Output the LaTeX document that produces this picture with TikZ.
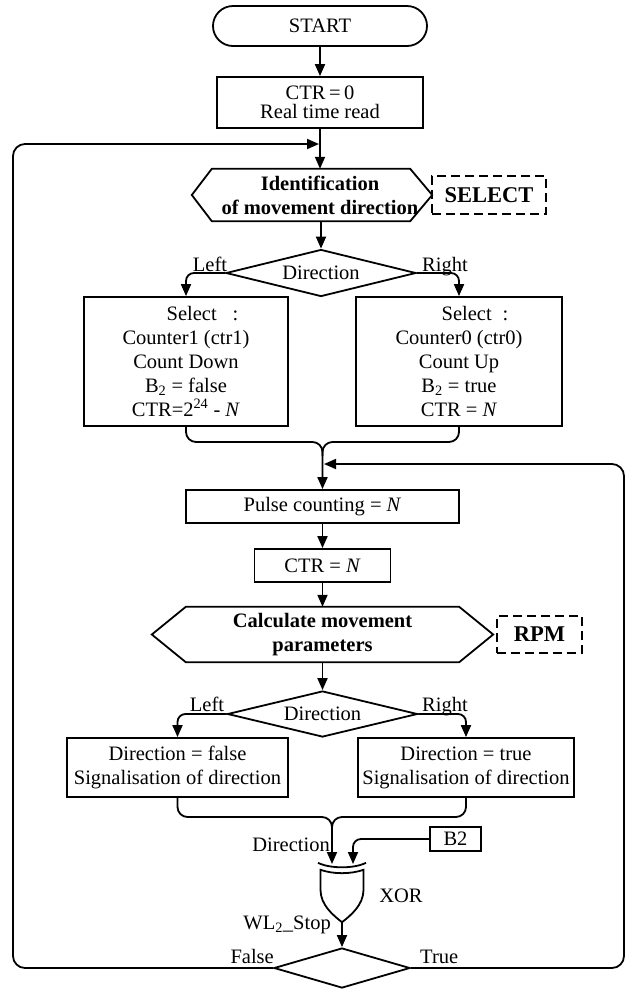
\documentclass[tikz,border=0pt]{standalone}
\usepackage{fontspec}
\setmainfont{Liberation Serif}
\usetikzlibrary{arrows.meta,shapes.geometric}
\newcommand\fsz{\fontsize{20.5}{24}\selectfont}
\newcommand\fszt{\fontsize{20.5}{18.5}\selectfont}
\newcommand\fszb{\fontsize{22.5}{26}\selectfont}
\begin{document}
\begin{tikzpicture}[x=1pt,y=-1pt,
  every node/.style={font=\fsz, inner sep=0pt},
  ln/.style={line width=1.8pt},
  arr/.style={ln,-{Triangle[length=12pt,width=10pt]}},
  box/.style={draw,ln,align=center},
  hexbox/.style={align=center,font=\bfseries\fsz},
  tag/.style={draw,line width=1.5pt,dash pattern=on 9pt off 5pt,font=\bfseries\fszb},
  dec/.style={draw,ln,diamond,aspect=4},
]
\useasboundingbox (0,0) rectangle (631,989);

% start and initialisation
\node[box,rounded corners=20pt,minimum width=214pt,minimum height=40pt] (start) at (320,26) {START};
\node[box,font=\fszt,minimum width=206pt,minimum height=51pt] (init) at (320,102.5) {CTR\,=\,0\\Real time read};

% direction identification block
\node[hexbox,minimum width=240pt,minimum height=52pt] (ident) at (312,195)
  {\hspace*{16pt}Identification\\\hspace*{16pt}of movement direction};
\draw[ln] (ident.west) -- ([xshift=20pt]ident.north west) -- ([xshift=-22pt]ident.north east)
  -- (ident.east) -- ([xshift=-22pt]ident.south east) -- ([xshift=20pt]ident.south west) -- cycle;
\node[tag,minimum width=114pt,minimum height=38pt] (select) at (489,195) {SELECT};

\node[dec,minimum width=190pt,minimum height=47pt] (dir1) at (321,273) {Direction};
\node[box,minimum width=204pt,minimum height=129pt] (cnt1) at (186,361.5)
  {\hspace*{33pt}Select\hspace{16pt}:\\Counter1 (ctr1)\\Count Down\\B\textsubscript{2} = false\\CTR=2\textsuperscript{24} - \textit{N}};
\node[box,minimum width=206pt,minimum height=129pt] (cnt0) at (459,361.5)
  {\hspace*{32pt}Select\hspace{11pt}:\\Counter0 (ctr0)\\Count Up\\B\textsubscript{2} = true\\CTR = \textit{N}};
\node[anchor=base] (lL1) at (210,271) {Left};
\node[anchor=base] (lR1) at (445,271) {Right};

% counting and parameter calculation
\coordinate (j1) at (322.5,442);
\node[box,minimum width=273pt,minimum height=33pt] (pulse) at (322.5,506.5) {Pulse counting = \textit{N}};
\node[box,minimum width=136pt,minimum height=33pt] (ctrn) at (322.5,565.5) {CTR = \textit{N}};
\node[hexbox,minimum width=341pt,minimum height=55pt] (calc) at (322.5,634.5) {Calculate movement\\parameters};
\draw[ln] (calc.west) -- ([xshift=34pt]calc.north west) -- ([xshift=-34pt]calc.north east)
  -- (calc.east) -- ([xshift=-34pt]calc.south east) -- ([xshift=34pt]calc.south west) -- cycle;
\node[tag,minimum width=85pt,minimum height=37pt] (rpm) at (539.5,634.5) {RPM};

\node[dec,minimum width=190pt,minimum height=46pt] (dir2) at (322.5,714) {Direction};
\node[box,minimum width=221pt,minimum height=59pt] (sig1) at (177.5,767.5) {Direction = false\\Signalisation of direction};
\node[box,minimum width=216pt,minimum height=59pt] (sig0) at (466,767.5) {Direction = true\\Signalisation of direction};
\node[anchor=base] (lL2) at (207,711) {Left};
\node[anchor=base] (lR2) at (445,711) {Right};

% XOR stage and stop decision
\coordinate (j2) at (332,817);
\coordinate (in1) at (332,864);
\coordinate (in2) at (353,864);
\node[box,minimum width=51pt,minimum height=24pt] (b2) at (455.5,839) {B2};
\node[minimum width=42.6pt,minimum height=52pt] (xor) at (342,896) {};
\draw[ln] (xor.north west) -- ++(0,20) .. controls +(0,15) and +(-9,-7) .. (xor.south)
  .. controls +(9,-7) and +(0,15) .. ([yshift=-20pt]xor.north east) -- (xor.north east)
  .. controls +(-13,4.5) and +(13,4.5) .. (xor.north west) -- cycle;
\draw[ln] ([xshift=-2.5pt,yshift=7pt]xor.north west) .. controls +(12,6) and +(-12,6) .. ([xshift=2.5pt,yshift=7pt]xor.north east);
\node[dec,minimum width=136pt,minimum height=40pt] (stop) at (342,968) {};

\node[anchor=base east] (ldir) at (330,851) {Direction};
\node (lxor) at (401,896) {XOR};
\node[anchor=base east] (lwl) at (331,929) {WL\textsubscript{2}\_Stop};
\node[anchor=base east] (lf) at (274,963) {False};
\node[anchor=base west] (ltr) at (420,963) {True};

\coordinate (lc) at (13,144);
\coordinate (lt) at (319,144);
\coordinate (rc) at (624,464);
\coordinate (rt) at (324,464);

% connectors
\draw[arr] (start) -- (init);
\draw[arr] (init) -- (init.south |- ident.north);
\draw[arr] (dir1.north |- ident.south) -- (dir1);
\draw[arr,rounded corners=8pt] (dir1.west) -| (cnt1.north);
\draw[arr,rounded corners=8pt] (dir1.east) -| (cnt0.north);
\draw[arr,rounded corners=10pt] (cnt1.south) |- (j1) -- (pulse.north);
\draw[ln,rounded corners=10pt] (cnt0.south) |- (j1) -- ++(0,14);
\draw[arr] (pulse) -- (ctrn);
\draw[arr] (ctrn) -- (calc.north);
\draw[arr] (calc.south) -- (dir2);
\draw[arr,rounded corners=8pt] (dir2.west) -| (sig1.north);
\draw[arr,rounded corners=8pt] (dir2.east) -| (sig0.north);
\draw[arr,rounded corners=10pt] (sig1.south) |- (j2) -- (in1);
\draw[ln,rounded corners=10pt] (sig0.south) |- (j2) -- ++(0,14);
\draw[arr,rounded corners=8pt] (b2.west) -| (in2);
\draw[arr] (xor.south) -- (stop);
\draw[arr,rounded corners=12pt] (stop.west) -| (lc) -- (lt);
\draw[arr,rounded corners=12pt] (stop.east) -| (rc) -- (rt);
\end{tikzpicture}
\end{document}
